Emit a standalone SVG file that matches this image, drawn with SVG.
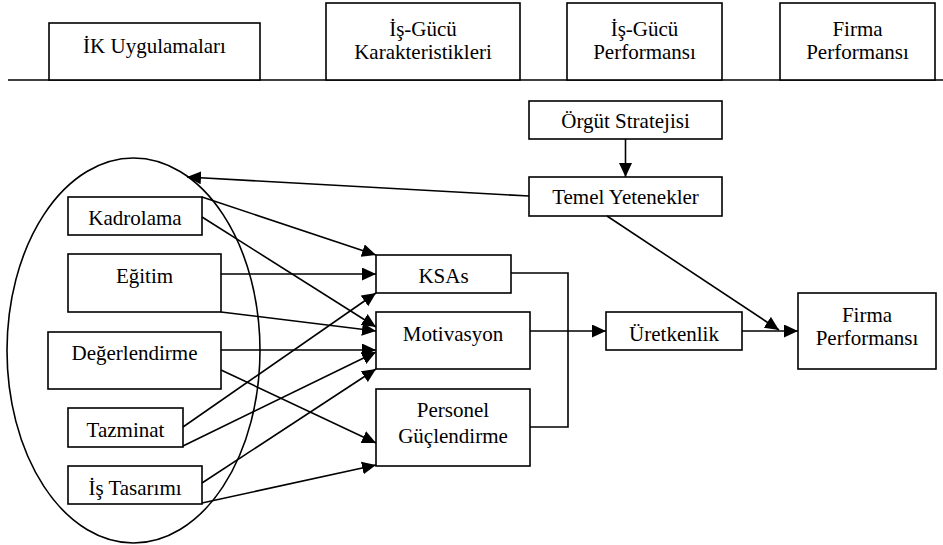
<svg xmlns="http://www.w3.org/2000/svg" width="943" height="545" viewBox="0 0 943 545">
<style>
.box{fill:#fff;stroke:#000;stroke-width:1.6}
.t{font-family:"Liberation Serif","Times New Roman",serif;font-size:21px;text-anchor:middle;fill:#000}
.c{fill:none;stroke:#000;stroke-width:1.6}
</style>
<defs>
<marker id="ah" markerUnits="userSpaceOnUse" markerWidth="15" markerHeight="14" refX="14" refY="6.5" orient="auto">
<path d="M0,0 L14,6.5 L0,13 z" fill="#000"/>
</marker>
</defs>
<rect width="943" height="545" fill="#fff"/>
<g id="header">
<line x1="8" y1="80" x2="943" y2="80" stroke="#000" stroke-width="1.6"/>
<g id="h1"><rect class="box" x="49" y="23" width="211" height="57"/><text class="t" x="154.5" y="53">İK Uygulamaları</text></g>
<g id="h2"><rect class="box" x="326" y="3" width="194" height="77"/><text class="t" x="423" y="36">İş-Gücü</text><text class="t" x="423" y="59">Karakteristikleri</text></g>
<g id="h3"><rect class="box" x="567" y="3" width="155" height="77"/><text class="t" x="644.5" y="36">İş-Gücü</text><text class="t" x="644.5" y="59">Performansı</text></g>
<g id="h4"><rect class="box" x="780" y="3" width="155" height="77"/><text class="t" x="857.5" y="36">Firma</text><text class="t" x="857.5" y="59">Performansı</text></g>
</g>
<g id="group-ellipse"><ellipse cx="133.5" cy="350.5" rx="126.5" ry="192.5" fill="none" stroke="#000" stroke-width="1.6"/></g>
<g id="kadrolama"><rect class="box" x="68" y="197" width="134" height="38"/><text class="t" x="135" y="225">Kadrolama</text></g>
<g id="egitim"><rect class="box" x="68" y="254" width="153" height="58"/><text class="t" x="144.5" y="283">Eğitim</text></g>
<g id="degerlendirme"><rect class="box" x="48" y="332" width="173" height="57"/><text class="t" x="134.5" y="360">Değerlendirme</text></g>
<g id="tazminat"><rect class="box" x="68" y="408" width="115" height="39"/><text class="t" x="125.5" y="437">Tazminat</text></g>
<g id="is-tasarimi"><rect class="box" x="68" y="466" width="134" height="38"/><text class="t" x="135" y="495">İş Tasarımı</text></g>
<g id="ksas"><rect class="box" x="376" y="255" width="135" height="38"/><text class="t" x="443.5" y="283">KSAs</text></g>
<g id="motivasyon"><rect class="box" x="376" y="312" width="154" height="57"/><text class="t" x="453" y="341">Motivasyon</text></g>
<g id="personel"><rect class="box" x="376" y="389" width="154" height="77"/><text class="t" x="453" y="417">Personel</text><text class="t" x="453" y="443">Güçlendirme</text></g>
<g id="uretkenlik"><rect class="box" x="606" y="312" width="136" height="38"/><text class="t" x="674" y="341">Üretkenlik</text></g>
<g id="orgut"><rect class="box" x="529" y="101" width="193" height="38"/><text class="t" x="625.5" y="128">Örgüt Stratejisi</text></g>
<g id="temel"><rect class="box" x="529" y="177" width="193" height="39"/><text class="t" x="625.5" y="204">Temel Yetenekler</text></g>
<g id="firma"><rect class="box" x="798" y="293" width="138" height="76"/><text class="t" x="867" y="322">Firma</text><text class="t" x="867" y="345">Performansı</text></g>
<g id="connectors">
<line class="c" x1="202" y1="197" x2="376" y2="255" marker-end="url(#ah)"/>
<line class="c" x1="202" y1="217" x2="376" y2="327" marker-end="url(#ah)"/>
<line class="c" x1="221" y1="274" x2="376" y2="274" marker-end="url(#ah)"/>
<line class="c" x1="221" y1="312" x2="376" y2="331" marker-end="url(#ah)"/>
<line class="c" x1="221" y1="350" x2="376" y2="350" marker-end="url(#ah)"/>
<line class="c" x1="221" y1="370" x2="376" y2="443" marker-end="url(#ah)"/>
<line class="c" x1="183" y1="427" x2="376" y2="293" marker-end="url(#ah)"/>
<line class="c" x1="183" y1="446" x2="376" y2="352" marker-end="url(#ah)"/>
<line class="c" x1="202" y1="483" x2="376" y2="369" marker-end="url(#ah)"/>
<line class="c" x1="202" y1="503" x2="376" y2="465" marker-end="url(#ah)"/>
<line class="c" x1="625.5" y1="139" x2="625.5" y2="177" marker-end="url(#ah)"/>
<line class="c" x1="529" y1="196" x2="187" y2="177" marker-end="url(#ah)"/>
<line class="c" x1="607" y1="216" x2="779" y2="330" marker-end="url(#ah)"/>
<polyline class="c" points="511,273 568,273 568,427 530,427"/>
<line class="c" x1="530" y1="331" x2="606" y2="331" marker-end="url(#ah)"/>
<line class="c" x1="742" y1="331" x2="798" y2="331" marker-end="url(#ah)"/>
</g>
</svg>
